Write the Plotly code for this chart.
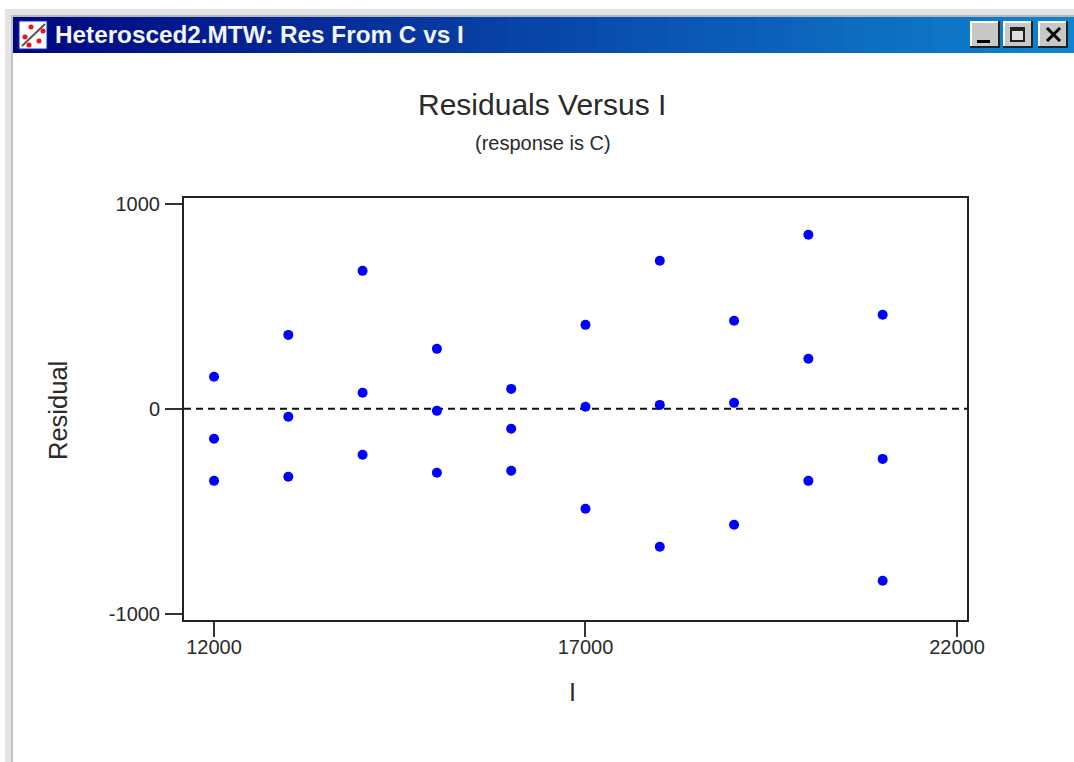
import plotly.graph_objects as go

W, H = 1074, 762

# data
income = [12000, 12000, 12000, 13000, 13000, 13000, 14000, 14000, 14000,
          15000, 15000, 15000, 16000, 16000, 16000, 17000, 17000, 17000,
          18000, 18000, 18000, 19000, 19000, 19000, 20000, 20000, 20000,
          21000, 21000, 21000]
residual = [156, -146, -351, 360, -39, -331, 672, 78, -224,
            292, -10, -312, 97, -97, -302, 409, 10, -487,
            721, 19, -672, 429, 29, -565, 848, 244, -351,
            458, -244, -838]
x_ticks = [12000, 17000, 22000]
y_ticks = [-1000, 0, 1000]
zero_x = [11596, 22135]
zero_y = [0, 0]


def px(v):
    return v / W


def py(v):
    return 1 - v / H


def rect(x0, y0, x1, y1, fill, line=None, lw=0):
    return dict(type="rect", xref="paper", yref="paper", layer="below",
                x0=px(x0), x1=px(x1), y0=py(y0), y1=py(y1),
                fillcolor=fill, line=dict(color=line or fill, width=lw))


def seg(x0, y0, x1, y1, color, lw):
    return dict(type="line", xref="paper", yref="paper", layer="below",
                x0=px(x0), x1=px(x1), y0=py(y0), y1=py(y1),
                line=dict(color=color, width=lw))


def dot(cx, cy, r, color):
    return dict(type="circle", xref="paper", yref="paper", layer="below",
                x0=px(cx - r), x1=px(cx + r), y0=py(cy - r), y1=py(cy + r),
                fillcolor=color, line=dict(width=0))


shapes = [
    rect(5, 9, W, 15, "#e4e4e4"),
    rect(5, 15, W, 17, "#b8b8b8"),
    rect(5, 9, 11, H, "#e4e4e4"),
    rect(11, 15, 13, H, "#c4c4c4"),
]

# title bar gradient
x_start, x_end, steps = 13, W, 60
c0, c1 = (0, 8, 128), (16, 132, 208)
for i in range(steps):
    t = i / (steps - 1)
    col = "rgb({},{},{})".format(*[round(a + (b - a) * t) for a, b in zip(c0, c1)])
    xa = x_start + (x_end - x_start) * i / steps
    xb = x_start + (x_end - x_start) * (i + 1) / steps + 1
    shapes.append(rect(xa, 17, xb, 53, col))

# window icon
shapes += [
    rect(19, 21, 47, 49, "#ffffff", "#1028c8", 1),
    seg(22, 46, 45, 24, "#555555", 2),
    dot(31, 27, 2.5, "#ee1111"), dot(43, 31, 2.5, "#ee1111"),
    dot(25, 37, 2.5, "#ee1111"), dot(39, 41, 2.5, "#ee1111"), dot(29, 45, 2.5, "#ee1111"),
]

# window buttons
for xa, xb in [(970, 1000), (1003, 1033), (1038, 1068)]:
    shapes += [
        rect(xa, 21, xb, 48, "#202020"),
        rect(xa, 21, xb - 2, 46, "#ffffff"),
        rect(xa + 2, 23, xb - 2, 46, "#c8c8c8"),
    ]
shapes += [
    rect(977, 40, 990, 43, "#000000"),
    rect(1010, 27, 1025, 42, "#202020"),
    rect(1012, 31, 1023, 40, "#e0e0e0"),
    seg(1047, 28, 1060, 41, "#000000", 3),
    seg(1060, 28, 1047, 41, "#000000", 3),
]

fig = go.Figure()
fig.add_trace(go.Scatter(x=zero_x, y=zero_y, mode="lines", hoverinfo="skip",
                         line=dict(color="#111111", width=2, dash="7px,5px")))
fig.add_trace(go.Scatter(x=income, y=residual, mode="markers",
                         marker=dict(color="#0000ff", size=10, line=dict(width=0))))


def label(x, y, text, size, color="#2a2a2a", angle=0, family="Liberation Sans", anchor="center", bold=False):
    return dict(xref="paper", yref="paper", x=px(x), y=py(y), text=f"<b>{text}</b>" if bold else text,
                showarrow=False, xanchor=anchor, yanchor="middle", textangle=angle,
                font=dict(size=size, color=color, family=family))


annotations = [
    label(53, 35, "Heterosced2.MTW: Res From C vs I", 24.3, "#f4f4f4", anchor="left", bold=True),
    label(542, 105, "Residuals Versus I", 30),
    label(542.5, 143, "(response is C)", 20),
    label(58, 411, "Residual", 25.5, angle=-90),
    label(572, 692, "I", 25),
]

axis_common = dict(showgrid=False, zeroline=False, showline=True, mirror=True,
                   linecolor="#222222", linewidth=2, ticks="outside", tickwidth=2,
                   tickcolor="#333333",
                   tickfont=dict(family="Liberation Sans", size=20, color="#2a2a2a"))

fig.update_layout(
    width=W, height=H, autosize=False, showlegend=False,
    margin=dict(l=0, r=0, t=0, b=0, autoexpand=False),
    paper_bgcolor="#ffffff", plot_bgcolor="#ffffff",
    shapes=shapes, annotations=annotations,
    xaxis=dict(domain=[184 / W, 967 / W], range=[11596, 22135], ticklabelstandoff=-7,
               tickvals=x_ticks, ticktext=[str(v) for v in x_ticks], ticklen=15, **axis_common),
    yaxis=dict(domain=[1 - 620 / H, 1 - 198 / H], range=[-1029, 1027], ticklabelstandoff=1,
               tickvals=y_ticks, ticktext=[str(v) for v in y_ticks], ticklen=17, **axis_common),
)

fig.write_html("out.html", post_script="document.body.style.margin='0';",
               config=dict(displayModeBar=False))
